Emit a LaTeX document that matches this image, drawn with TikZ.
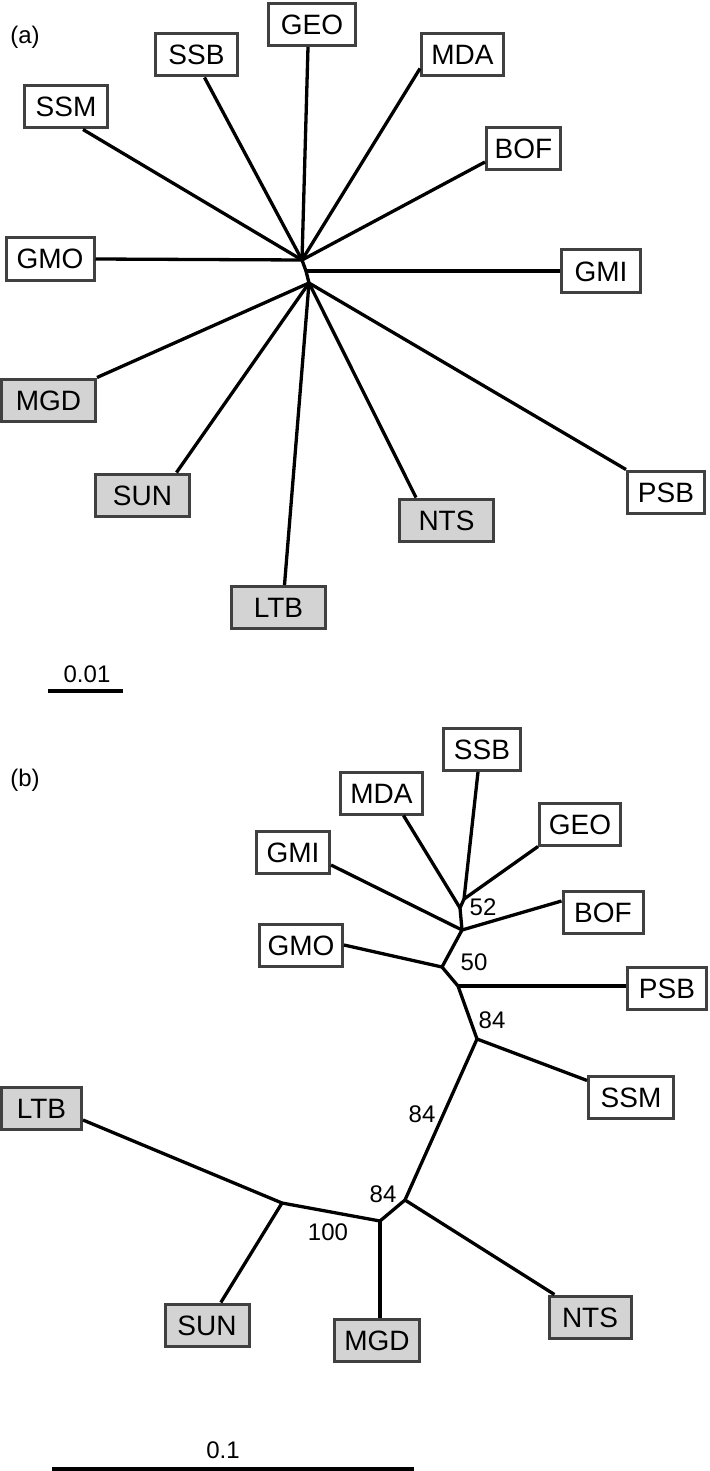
\documentclass[tikz,border=0pt]{standalone}
\usepackage{fontspec}
\setmainfont{Liberation Sans}
\usetikzlibrary{calc}
\definecolor{boxc}{HTML}{404040}
\definecolor{grayfill}{HTML}{D3D3D3}
\tikzset{
  leaf/.style={draw=boxc, line width=3pt, fill=white, font=\fontsize{28}{30}\selectfont,
    inner sep=0pt, text height=20pt, text depth=0pt, minimum height=42pt, minimum width=#1},
  leaf/.default=80pt,
  gleaf/.style={leaf=#1, fill=grayfill},
  gleaf/.default=94pt,
  branch/.style={line width=3.3pt, line join=round},
  boot/.style={font=\fontsize{24}{26}\selectfont, inner sep=0pt},
  panellabel/.style={font=\fontsize{24}{26}\selectfont, inner sep=0pt},
  scalebar/.style={line width=3.6pt},
}
\begin{document}
\begin{tikzpicture}[x=1pt,y=-1pt]
\useasboundingbox (0,0) rectangle (709,1471);
% ---------------- panel (a)
\node[panellabel] (la) at (25,37) {(a)};
\node[leaf=87pt] (aGEO) at (312,24.5) {GEO};
\node[leaf=82pt] (aSSB) at (196.5,55) {SSB};
\node[leaf=83pt] (aSSM) at (66,107) {SSM};
\node[leaf=82pt] (aMDA) at (462.5,55) {MDA};
\node[leaf=74pt] (aBOF) at (523.5,149) {BOF};
\node[leaf=79pt] (aGMI) at (601,271) {GMI};
\node[leaf=88pt] (aGMO) at (50,259) {GMO};
\node[gleaf] (aMGD) at (48.5,400) {MGD};
\node[gleaf] (aSUN) at (142.5,495) {SUN};
\node[gleaf] (aLTB) at (278.5,607.5) {LTB};
\node[gleaf] (aNTS) at (446.5,520) {NTS};
\node[leaf=77pt] (aPSB) at (666,492) {PSB};
\coordinate (aA) at (302,260);
\coordinate (aB) at (306,271);
\coordinate (aC) at (309,283);
\draw[branch] (aA) -- ($(aSSM.south)+(17,0)$);
\draw[branch] (aA) -- ($(aSSB.south)+(8,0)$);
\draw[branch] (aA) -- ($(aGEO.south)+(-4,0)$);
\draw[branch] (aA) -- ($(aMDA.south west)+(0,-9)$);
\draw[branch] (aA) -- ($(aBOF.west)+(0,13)$);
\draw[branch] (aA) -- (aGMO.east);
\draw[branch] (aA) -- (aB) -- (aC);
\draw[branch] (aB) -- (aGMI.west);
\draw[branch] (aC) -- (aMGD.north east);
\draw[branch] (aC) -- ($(aSUN.north)+(34,0)$);
\draw[branch] (aC) -- ($(aLTB.north)+(6,0)$);
\draw[branch] (aC) -- ($(aNTS.north west)+(18,0)$);
\draw[branch] (aC) -- (aPSB.north west);
\node[panellabel] (sla) at (87,674) {0.01};
\coordinate (sa1) at (48,691);
\coordinate (sa2) at (123,691);
\draw[scalebar] (sa1) -- (sa2);
% ---------------- panel (b)
\node[panellabel] (lb) at (25,780) {(b)};
\node[leaf=77pt] (bSSB) at (482,749.5) {SSB};
\node[leaf=82pt] (bMDA) at (381.5,793) {MDA};
\node[leaf=73pt] (bGMI) at (293,852.5) {GMI};
\node[leaf=83pt] (bGMO) at (301,945) {GMO};
\node[leaf=81pt] (bGEO) at (580,824) {GEO};
\node[leaf=80pt] (bBOF) at (603,912) {BOF};
\node[leaf=79pt] (bPSB) at (667,988) {PSB};
\node[leaf=85pt] (bSSM) at (631,1097) {SSM};
\node[gleaf=80pt] (bLTB) at (41.5,1108) {LTB};
\node[gleaf=84pt] (bSUN) at (207,1325) {SUN};
\node[gleaf=85pt] (bMGD) at (377,1340) {MGD};
\node[gleaf=82pt] (bNTS) at (590,1317) {NTS};
\coordinate (b0) at (464,899);
\coordinate (b1) at (460,908);
\coordinate (b2) at (462,930);
\coordinate (b3) at (442,967);
\coordinate (b4) at (458,986);
\coordinate (b5) at (477,1039);
\coordinate (b6) at (405,1200);
\coordinate (b7) at (380,1221);
\coordinate (b8) at (282,1203);
\draw[branch] (b0) -- ($(bSSB.south)+(-4,0)$);
\draw[branch] (b0) -- (bGEO.south west);
\draw[branch] (b0) -- (b1) -- (b2) -- (b3) -- (b4) -- (b5) -- (b6) -- (b7) -- (b8);
\draw[branch] (b1) -- ($(bMDA.south)+(22,0)$);
\draw[branch] (b2) -- ($(bGMI.south east)+(0,-10)$);
\draw[branch] (b2) -- ($(bBOF.west)+(0,-11)$);
\draw[branch] (b3) -- (bGMO.east);
\draw[branch] (b4) -- (b4 -| bPSB.west);
\draw[branch] (b5) -- (bSSM);
\draw[branch] (b6) -- (bNTS);
\draw[branch] (b7) -- (b7 |- bMGD.north);
\draw[branch] (b8) -- ($(bLTB.east)+(0,12)$);
\draw[branch] (b8) -- (bSUN);
\node[boot] (n52) at (483,907) {52};
\node[boot] (n50) at (474,962) {50};
\node[boot] (n84a) at (492,1020) {84};
\node[boot] (n84b) at (422,1114) {84};
\node[boot] (n84c) at (383,1194) {84};
\node[boot] (n100) at (328,1232) {100};
\node[panellabel] (slb) at (223,1450) {0.1};
\coordinate (sb1) at (52,1469);
\coordinate (sb2) at (414,1469);
\draw[scalebar] (sb1) -- (sb2);
\end{tikzpicture}
\end{document}
